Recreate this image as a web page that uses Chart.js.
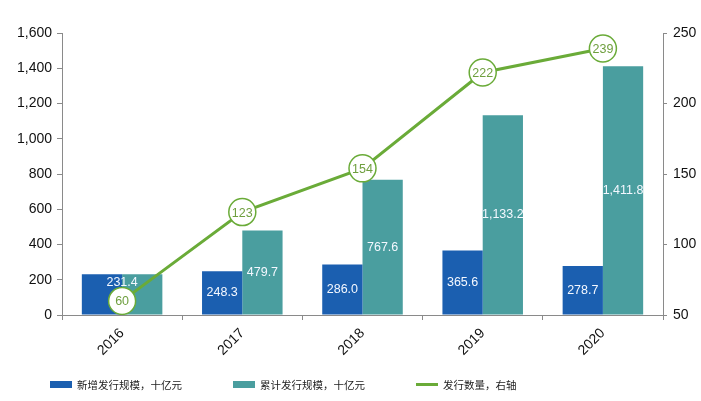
<!DOCTYPE html>
<html>
<head>
<meta charset="utf-8">
<script src="https://cdn.jsdelivr.net/npm/chart.js@4/dist/chart.umd.min.js"></script>
<style>
  html, body { margin: 0; padding: 0; background: #fff; }
  #wrap { position: relative; width: 701px; height: 401px; }
  #legend { position: absolute; left: 50px; top: 376px; display: flex; gap: 51px;
    font: 10.5px "Noto Sans CJK SC", sans-serif; color: #222; }
  #legend .item { display: flex; align-items: center; height: 16px; }
  #legend .mark { width: 22px; margin-right: 5px; }
</style>
</head>
<body>
<div id="wrap">
  <canvas id="issueChart"></canvas>
  <div id="legend"></div>
</div>
<script>
    const years = ['2016', '2017', '2018', '2019', '2020']; // 年份
    const newIssue = [231.4, 248.3, 286.0, 365.6, 278.7]; // 新增发行规模
    const totalIssue = [231.4, 479.7, 767.6, 1133.2, 1411.8]; // 累计发行规模
    const issueCount = [60, 123, 154, 222, 239]; // 发行数量 (右轴)
    const leftAxis = { min: 0, max: 1600, step: 200 };
    const rightAxis = { min: 50, max: 250, step: 50 };

    const BLUE = '#1b5fb0';
    const TEAL = '#4a9e9f';
    const GREEN = '#6aab38';
    const AXIS = '#8a8a8a';
    const tickFont = { family: '"Liberation Sans", Arial, sans-serif', size: 14 };

    function fmt1(v) {
    return v.toLocaleString('en-US', { minimumFractionDigits: 1, maximumFractionDigits: 1 });
}

    // 柱子和折线上的数值
    const valueLabels = {
    id: 'valueLabels',
    afterDatasetsDraw(chart) {
    const ctx = chart.ctx;
    const m0 = chart.getDatasetMeta(0);
    const m1 = chart.getDatasetMeta(1);
    const m2 = chart.getDatasetMeta(2);
    ctx.save();
    ctx.textAlign = 'center';
    ctx.textBaseline = 'middle';
    ctx.font = '12.5px "Liberation Sans", Arial, sans-serif';
    ctx.fillStyle = '#f4f8ff';
    years.forEach((_, i) => {
    const a = m0.data[i], b = m1.data[i];
    if (newIssue[i] === totalIssue[i]) {
    // 第一年两者相同，只写一个
    ctx.fillText(fmt1(newIssue[i]), (a.x + b.x) / 2, a.y + 8);
} else {
    ctx.fillText(fmt1(newIssue[i]), a.x, (a.y + a.base) / 2);
    ctx.fillText(fmt1(totalIssue[i]), b.x, (b.y + b.base) / 2);
}
});
    ctx.font = '12.5px "Liberation Sans", Arial, sans-serif';
    ctx.fillStyle = '#6f9f3f';
    m2.data.forEach((p, i) => ctx.fillText(String(issueCount[i]), p.x, p.y + 1));
    ctx.restore();
},
};

    const ctx = document.getElementById('issueChart').getContext('2d');
    const issueChart = new Chart(ctx, {
    data: {
    labels: years,
    datasets: [{
    type: 'bar',
    label: '新增发行规模，十亿元',
    data: newIssue,
    backgroundColor: BLUE,
    yAxisID: 'y',
    order: 1,
    categoryPercentage: 0.67,
    barPercentage: 1.0,
}, {
    type: 'bar',
    label: '累计发行规模，十亿元',
    data: totalIssue,
    backgroundColor: TEAL,
    yAxisID: 'y',
    order: 1,
    categoryPercentage: 0.67,
    barPercentage: 1.0,
}, {
    type: 'line',
    label: '发行数量，右轴',
    data: issueCount,
    borderColor: GREEN,
    borderWidth: 3,
    tension: 0,
    pointRadius: 13.5,
    pointBackgroundColor: '#fff',
    pointBorderColor: GREEN,
    pointBorderWidth: 1.5,
    yAxisID: 'y1',
    order: 0,
}],
},
    options: {
    responsive: true,
    maintainAspectRatio: false,
    animation: false,
    layout: { padding: { top: 33, left: 0, right: 0, bottom: 0 } },
    plugins: {
    legend: { display: false },
    tooltip: { enabled: false },
},
    scales: {
    x: {
    grid: { display: true, drawOnChartArea: false, offset: true, tickLength: 5, color: AXIS },
    border: { display: true, color: AXIS },
    ticks: { color: '#111', font: tickFont, minRotation: 45, maxRotation: 45, padding: 5 },
    afterFit: (s) => { s.height = 86; },
},
    y: {
    position: 'left',
    min: leftAxis.min,
    max: leftAxis.max,
    grid: { display: true, drawOnChartArea: false, tickLength: 5, color: AXIS },
    border: { display: true, color: AXIS },
    ticks: {
    stepSize: leftAxis.step,
    color: '#111',
    font: tickFont,
    padding: 5,
    callback: (v) => v.toLocaleString('en-US'),
},
    afterFit: (s) => { s.width = 62; },
},
    y1: {
    position: 'right',
    min: rightAxis.min,
    max: rightAxis.max,
    grid: { display: true, drawOnChartArea: false, tickLength: 4, color: AXIS },
    border: { display: true, color: AXIS },
    ticks: { stepSize: rightAxis.step, color: '#111', font: tickFont, padding: 6 },
    afterFit: (s) => { s.width = 38; },
},
},
},
    plugins: [valueLabels],
});

    // 图例 (按数据集生成)
    const legendEl = document.getElementById('legend');
    issueChart.data.datasets.forEach((ds) => {
    const item = document.createElement('div');
    item.className = 'item';
    const mark = document.createElement('span');
    mark.className = 'mark';
    if (ds.type === 'line') {
    mark.style.height = '3px';
    mark.style.background = ds.borderColor;
} else {
    mark.style.height = '7px';
    mark.style.background = ds.backgroundColor;
}
    const text = document.createElement('span');
    text.textContent = ds.label;
    item.appendChild(mark);
    item.appendChild(text);
    legendEl.appendChild(item);
});
</script>
</body>
</html>
